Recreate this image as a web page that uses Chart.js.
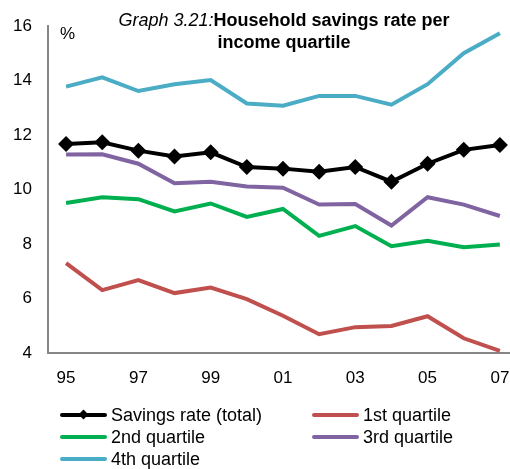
<!DOCTYPE html>
<html>
<head>
<meta charset="utf-8">
<script src="https://cdn.jsdelivr.net/npm/chart.js@4"></script>
<style>
  html, body { margin: 0; padding: 0; background: #fff; }
  #wrap { position: relative; width: 510px; height: 469px; font-family: "Liberation Sans", Arial, sans-serif; color: #000; }
  canvas { position: absolute; left: 0; top: 0; }
  .t { position: absolute; white-space: nowrap; }
  #title { left: 0; width: 568px; top: 9px; text-align: center; font-size: 18px; line-height: 22px; }
  #title i { font-weight: normal; }
  #title b { font-weight: bold; }
  #pct { left: 60px; top: 24px; font-size: 17px; }
  .lg { position: absolute; height: 22px; }
  .lg .ln { position: absolute; left: 0; top: 9px; width: 47px; height: 4px; border-radius: 2px; }
  .lg .tx { position: absolute; left: 51px; top: 0; font-size: 18px; line-height: 22px; white-space: nowrap; }
  .dm { position: absolute; left: 20px; top: 7px; width: 7px; height: 7px; background: #000; transform: rotate(45deg); }
</style>
</head>
<body>
<div id="wrap">
  <canvas id="c" width="510" height="469"></canvas>
  <div class="t" id="title"><i>Graph 3.21:</i><b>Household savings rate per</b><br><b>income quartile</b></div>
  <div class="t" id="pct">%</div>
  <div id="legend"></div>
</div>
<script>
const years = ['95','96','97','98','99','00','01','02','03','04','05','06','07'];
const xTickLabels = ['95','97','99','01','03','05','07'];
const yTicks = [4, 6, 8, 10, 12, 14, 16];

const seriesNames = ['Savings rate (total)', '1st quartile', '2nd quartile', '3rd quartile', '4th quartile'];
const savingsTotal = [11.67, 11.74, 11.43, 11.22, 11.37, 10.83, 10.77, 10.66, 10.83, 10.29, 10.95, 11.46, 11.64];
const quartile1 = [7.30, 6.31, 6.68, 6.20, 6.40, 5.98, 5.37, 4.69, 4.95, 4.99, 5.35, 4.54, 4.08];
const quartile2 = [9.51, 9.72, 9.65, 9.20, 9.49, 9.00, 9.29, 8.30, 8.66, 7.92, 8.12, 7.88, 7.98];
const quartile3 = [11.29, 11.30, 10.95, 10.23, 10.29, 10.11, 10.07, 9.45, 9.47, 8.68, 9.72, 9.45, 9.03];
const quartile4 = [13.78, 14.12, 13.62, 13.87, 14.02, 13.16, 13.08, 13.44, 13.44, 13.12, 13.87, 15.01, 15.74];

const colors = ['#000000', '#C0504D', '#00B050', '#8064A2', '#4BACC6'];
const allSeries = [savingsTotal, quartile1, quartile2, quartile3, quartile4];

function pts(arr) { return arr.map((v, i) => ({ x: i, y: v })); }

const datasets = allSeries.map((arr, k) => ({
  label: seriesNames[k],
  data: pts(arr),
  borderColor: colors[k],
  backgroundColor: colors[k],
  borderWidth: 4,
  pointStyle: k === 0 ? 'rectRot' : 'circle',
  pointRadius: k === 0 ? 8 : 0,
  pointHoverRadius: k === 0 ? 8 : 0,
  pointBorderWidth: 0,
  tension: 0,
  fill: false,
  clip: 12
}));

new Chart(document.getElementById('c'), {
  type: 'line',
  data: { datasets },
  options: {
    responsive: false,
    animation: false,
    events: [],
    layout: { autoPadding: false, padding: { top: 22, right: 0, left: 0, bottom: 0 } },
    plugins: { legend: { display: false }, tooltip: { enabled: false }, title: { display: false } },
    scales: {
      x: {
        type: 'linear',
        min: -0.5,
        max: 12.28,
        grid: { display: false, drawTicks: false },
        border: { display: true, color: '#868686', width: 2 },
        afterBuildTicks: (s) => { s.ticks = xTickLabels.map(l => ({ value: years.indexOf(l) })); },
        afterFit: (s) => { s.height = 116; s.paddingRight = 0; s.paddingLeft = 0; },
        ticks: {
          padding: 15,
          color: '#000',
          font: { family: 'Liberation Sans', size: 17 },
          maxRotation: 0,
          autoSkip: false,
          callback: (v) => years[v]
        }
      },
      y: {
        min: 4,
        max: 16,
        grid: { display: false, drawTicks: false },
        border: { display: true, color: '#868686', width: 2 },
        afterBuildTicks: (s) => { s.ticks = yTicks.map(v => ({ value: v })); },
        afterFit: (s) => { s.width = 48; },
        ticks: {
          padding: 16,
          color: '#000',
          font: { family: 'Liberation Sans', size: 17 },
          callback: (v) => String(v)
        }
      }
    }
  }
});

// HTML legend (two columns)
const legendPos = [
  { x: 60, y: 404 }, { x: 312, y: 404 },
  { x: 60, y: 426 }, { x: 312, y: 426 },
  { x: 60, y: 448 }
];
const lg = document.getElementById('legend');
seriesNames.forEach((name, k) => {
  const d = document.createElement('div');
  d.className = 'lg';
  d.style.left = legendPos[k].x + 'px';
  d.style.top = legendPos[k].y + 'px';
  d.innerHTML = '<div class="ln" style="background:' + colors[k] + '"></div>' +
    (k === 0 ? '<div class="dm"></div>' : '') +
    '<div class="tx"></div>';
  d.querySelector('.tx').textContent = name;
  lg.appendChild(d);
});
</script>
</body>
</html>
